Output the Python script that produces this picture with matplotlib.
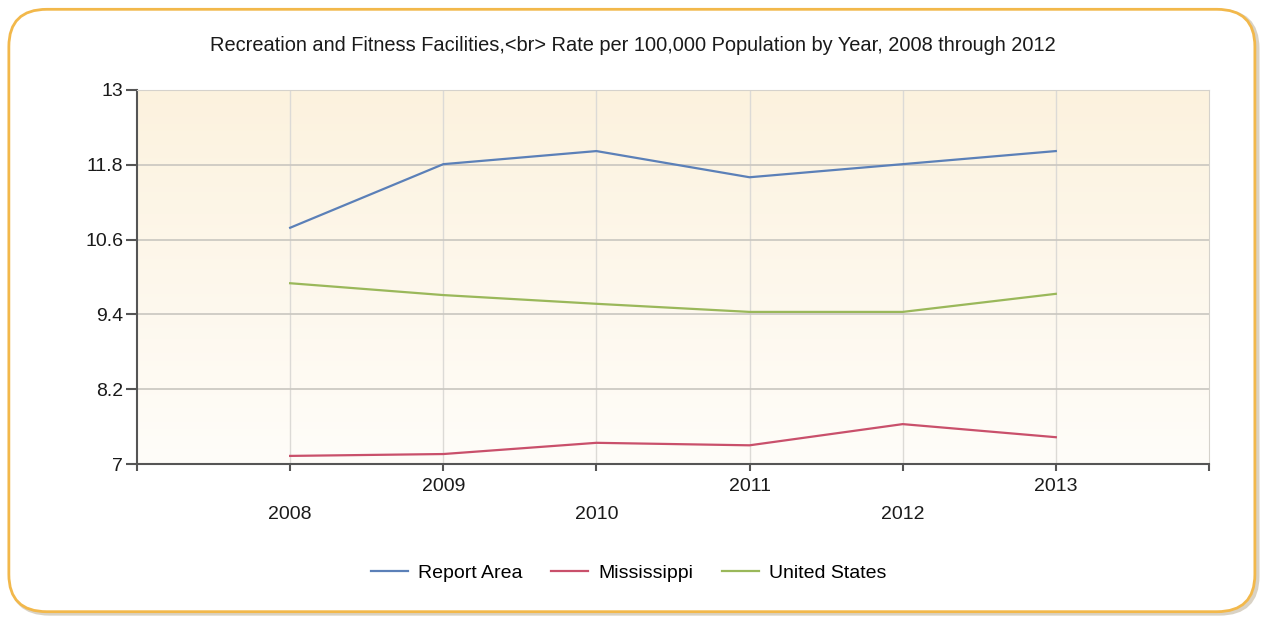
import numpy as np
import matplotlib
matplotlib.use("Agg")
import matplotlib.pyplot as plt
from matplotlib.patches import FancyBboxPatch

plt.rcParams['font.family'] = ['Liberation Sans', 'DejaVu Sans']

# Chart data
years = [2008, 2009, 2010, 2011, 2012, 2013]
report_area = [10.79, 11.81, 12.02, 11.60, 11.81, 12.02]
mississippi = [7.13, 7.16, 7.34, 7.30, 7.64, 7.43]
united_states = [9.90, 9.71, 9.57, 9.44, 9.44, 9.73]
y_ticks = [7, 8.2, 9.4, 10.6, 11.8, 13]
y_tick_labels = ["7", "8.2", "9.4", "10.6", "11.8", "13"]

title = "Recreation and Fitness Facilities,<br> Rate per 100,000 Population by Year, 2008 through 2012"

fig = plt.figure(figsize=(12.65, 6.21), dpi=100)
fig.patch.set_facecolor("white")

# Rounded orange frame around the whole chart (drawn behind the axes)
shadow = FancyBboxPatch((0.009, 0.012), 0.985, 0.97, transform=fig.transFigure,
                        boxstyle="round,pad=0,rounding_size=0.03", mutation_aspect=2.0,
                        facecolor="none", edgecolor="#d9d2c4", linewidth=3, zorder=-2)
frame = FancyBboxPatch((0.007, 0.015), 0.985, 0.97, transform=fig.transFigure,
                       boxstyle="round,pad=0,rounding_size=0.03", mutation_aspect=2.0,
                       facecolor="white", edgecolor="#f2b84b", linewidth=2, zorder=-1)
fig.patches.extend([shadow, frame])

ax = fig.add_axes([0.1083, 0.2528, 0.8474, 0.6023])
ax.set_xlim(2007, 2014)
ax.set_ylim(7, 13)

# Cream gradient background
grad = np.linspace(1, 0, 256).reshape(-1, 1)
top = np.array([252, 242, 222]) / 255
bottom = np.array([255, 253, 249]) / 255
img = bottom + (top - bottom) * grad[..., None]
ax.imshow(img, extent=[2007, 2014, 7, 13], aspect="auto", zorder=0, origin="upper")

ax.set_yticks(y_ticks)
ax.set_yticklabels(y_tick_labels)
ax.set_xticks(range(2007, 2015))
ax.set_xticklabels([])
for i, yr in enumerate(years):
    ypos = -0.06 if i % 2 == 1 else -0.135
    ax.text(yr, ypos, str(yr), transform=ax.get_xaxis_transform(),
            ha="center", va="center", fontsize=14, color="#1a1a1a")

ax.grid(axis="y", color="#c9c6c0", linewidth=1.2, zorder=1)
for yr in years:
    ax.axvline(yr, color="#dcdad6", linewidth=1, zorder=1)

ax.plot(years, report_area, color="#5b80b8", linewidth=1.6, label="Report Area", zorder=3)
ax.plot(years, mississippi, color="#c9506b", linewidth=1.6, label="Mississippi", zorder=3)
ax.plot(years, united_states, color="#9ab85a", linewidth=1.6, label="United States", zorder=3)

for side in ["top", "right"]:
    ax.spines[side].set_color("#d5d2cc")
for side in ["left", "bottom"]:
    ax.spines[side].set_color("#555555")
    ax.spines[side].set_linewidth(1.5)

ax.tick_params(axis="y", length=8, width=1.5, color="#555555", labelsize=14,
               labelcolor="#1a1a1a", pad=2)
ax.tick_params(axis="x", length=5, width=1.5, color="#555555", direction="out")

fig.text(0.5, 0.926, title, ha="center", va="center", fontsize=14.4, color="#1a1a1a")

fig.legend(loc="center", bbox_to_anchor=(0.497, 0.077), ncol=3, frameon=False,
           fontsize=14, handlelength=1.9, columnspacing=1.5, handletextpad=0.5)

fig.savefig("out.png", dpi=100)
